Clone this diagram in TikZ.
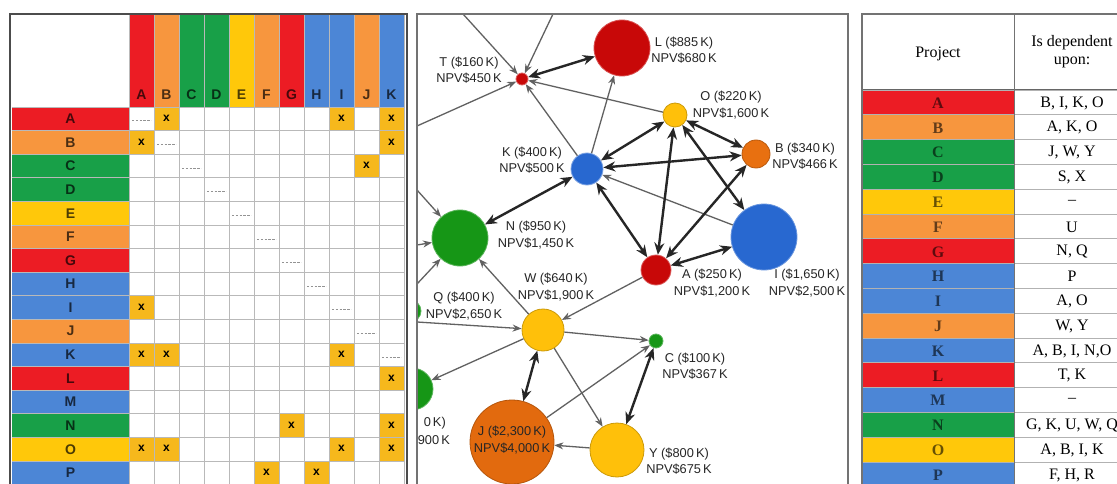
\documentclass[tikz,border=0pt]{standalone}
\usepackage{fontspec}
\setmainfont{Liberation Serif}
\setsansfont{Liberation Sans}
\usetikzlibrary{arrows.meta}

% table / matrix palette
\definecolor{cr}{RGB}{236,28,36}
\definecolor{co}{RGB}{247,150,62}
\definecolor{cg}{RGB}{24,160,72}
\definecolor{cy}{RGB}{255,200,10}
\definecolor{cb}{RGB}{76,134,214}
\definecolor{cx}{RGB}{246,184,28}
% network palette
\definecolor{gred}{RGB}{200,8,8}
\definecolor{gyel}{RGB}{255,192,10}
\definecolor{gblue}{RGB}{40,104,208}
\definecolor{gora}{RGB}{232,112,16}
\definecolor{gjor}{RGB}{226,106,14}
\definecolor{ggrn}{RGB}{22,150,22}

\tikzset{
  grid/.style={draw=gray!55, line width=0.8pt},
  hdr/.style={font=\sffamily\bfseries\fontsize{14}{16}\selectfont, inner sep=0pt},
  xmark/.style={font=\sffamily\bfseries\fontsize{12}{14}\selectfont, inner sep=0pt},
  diagmark/.style={draw=gray!85, line width=1pt, dash pattern=on 2.4pt off 1.4pt},
  gnode/.style={circle, inner sep=0pt, line width=0.8pt},
  lbl/.style={font=\sffamily\fontsize{12.8}{16.5}\selectfont, align=center, inner sep=0pt, text=black!85},
  dbl/.style={line width=2.4pt, draw=black!85,
    {Stealth[length=12pt,width=10pt]}-{Stealth[length=12pt,width=10pt]}},
  one/.style={line width=1.3pt, draw=black!62, -{Stealth[length=9pt,width=7pt]}},
  tcell/.style={font=\fontsize{16}{18}\selectfont, inner sep=0pt},
  tproj/.style={font=\bfseries\fontsize{16}{18}\selectfont, inner sep=0pt},
}

\begin{document}
\begin{tikzpicture}[x=1pt,y=-1pt]
\useasboundingbox (0,0) rectangle (1117,484);
\clip (0,0) rectangle (1117,484);
\fill[white] (0,0) rectangle (1117,484);

% ---------------- dependency matrix ----------------
\foreach \pl/\pc [count=\j from 0] in {A/cr,B/co,C/cg,D/cg,E/cy,F/co,G/cr,H/cb,I/cb,J/co,K/cb}{
  \fill[\pc] (129+\j*25,15) rectangle ++(25,92);
  \node[hdr, text=\pc!30!black] (h\pl) at (141.5+\j*25,95) {\pl};
}
\foreach \pl/\pc [count=\i from 0] in {A/cr,B/co,C/cg,D/cg,E/cy,F/co,G/cr,H/cb,I/cb,J/co,K/cb,L/cr,M/cb,N/cg,O/cy,P/cb}{
  \fill[\pc] (12,107+\i*23.6) rectangle ++(117,23.6);
  \node[hdr, text=\pc!30!black] (r\pl) at (70.5,118.8+\i*23.6) {\pl};
}
\foreach \rr/\kk in {0/1,0/8,0/10,1/0,1/10,2/9,8/0,10/0,10/1,10/8,11/10,13/6,13/10,14/0,14/1,14/8,14/10,15/5,15/7}{
  \fill[cx] (129.5+\kk*25,107.5+\rr*23.6) rectangle ++(24,22.6);
  \node[xmark] (x\rr-\kk) at (141.5+\kk*25,118.3+\rr*23.6) {x};
}
\foreach \i in {0,...,10}{
  \draw[diagmark] (132+\i*25,107+\i*23.6+14) -- ++(19,0);
}
\foreach \j in {0,...,11}{
  \draw[grid] (129+\j*25,15) -- (129+\j*25,490);
}
\foreach \i in {0,...,16}{
  \draw[grid] (12,107+\i*23.6) -- (405,107+\i*23.6);
}
\draw[draw=black!70, line width=2pt] (10,14) rectangle (407,492);

% ---------------- project network ----------------
\begin{scope}
\clip (417,14) rectangle (848,484);

\node[gnode, fill=gred,  draw=gred!65!white,  minimum size=12pt] (T) at (522,79) {};
\node[gnode, fill=gred,  draw=gred!70!white,  minimum size=56pt] (L) at (622,48) {};
\node[gnode, fill=gyel,  draw=gyel!80!black,  minimum size=24pt] (O) at (675,115) {};
\node[gnode, fill=gblue, draw=gblue!60!white, minimum size=32pt] (K) at (587,169) {};
\node[gnode, fill=gora,  draw=gora!80!black,  minimum size=28pt] (B) at (756,154) {};
\node[gnode, fill=gblue, draw=gblue!70!white, minimum size=66pt] (I) at (764,237) {};
\node[gnode, fill=gred,  draw=gred!65!white,  minimum size=30pt] (A) at (656,270) {};
\node[gnode, fill=ggrn,  draw=ggrn!70!white,  minimum size=56pt] (N) at (460,238) {};
\node[gnode, fill=gyel,  draw=gyel!80!black,  minimum size=42pt] (W) at (543,330) {};
\node[gnode, fill=ggrn,  draw=ggrn!70!white,  minimum size=22pt] (Q) at (410,311) {};
\node[gnode, fill=ggrn,  draw=ggrn!70!white,  minimum size=14pt] (C) at (656,341) {};
\node[gnode, fill=ggrn,  draw=ggrn!70!white,  minimum size=42pt] (U) at (412,389) {};
\node[gnode, fill=gjor,  draw=gjor!80!black,  minimum size=84pt] (J) at (512,442) {};
\node[gnode, fill=gyel,  draw=gyel!80!black,  minimum size=54pt] (Y) at (617,450) {};

% free ends of links running in from outside the panel
\coordinate (t1) at (463,14);
\coordinate (t2) at (553,14);
\coordinate (s1) at (417,126);
\coordinate (s2) at (417,190);
\coordinate (s3) at (417,245);
\coordinate (s4) at (417,284);
\coordinate (s5) at (417,322);

% thin one-way links
\draw[one] (t1) -- (T);
\draw[one] (t2) -- (T);
\draw[one] (s1) -- (T);
\draw[one] (O) -- (T);
\draw[one] (K) -- (T);
\draw[one] (K) -- (L);
\draw[one] (I) -- (K);
\draw[one] (A) -- (W);
\draw[one] (s2) -- (N);
\draw[one] (s3) -- (N);
\draw[one] (s4) -- (N);
\draw[one] (s5) -- (W);
\draw[one] (W) -- (N);
\draw[one] (W) -- (C);
\draw[one] (W) -- (U);
\draw[one] (W) -- (Y);
\draw[one] (J) -- (C);
\draw[one] (Y) -- (J);

% thick two-way links
\draw[dbl] (T) -- (L);
\draw[dbl] (K) -- (O);
\draw[dbl] (K) -- (B);
\draw[dbl] (K) -- (N);
\draw[dbl] (K) -- (A);
\draw[dbl] (O) -- (B);
\draw[dbl] (O) -- (I);
\draw[dbl] (O) -- (A);
\draw[dbl] (B) -- (A);
\draw[dbl] (I) -- (A);
\draw[dbl] (W) -- (J);
\draw[dbl] (C) -- (Y);

% labels
\node[lbl] (lT) at (469,70)  {T (\$160\,K)\\NPV\$450\,K};
\node[lbl] (lL) at (684,50)  {L (\$885\,K)\\NPV\$680\,K};
\node[lbl] (lO) at (731,105) {O (\$220\,K)\\NPV\$1,600\,K};
\node[lbl] (lK) at (532,160) {K (\$400\,K)\\NPV\$500\,K};
\node[lbl] (lB) at (805,156) {B (\$340\,K)\\NPV\$466\,K};
\node[lbl] (lN) at (536,235) {N (\$950\,K)\\NPV\$1,450\,K};
\node[lbl] (lW) at (556,287) {W (\$640\,K)\\NPV\$1,900\,K};
\node[lbl] (lQ) at (464,306) {Q (\$400\,K)\\NPV\$2,650\,K};
\node[lbl] (lA) at (712,283) {A (\$250\,K)\\NPV\$1,200\,K};
\node[lbl] (lI) at (807,283) {I (\$1,650\,K)\\NPV\$2,500\,K};
\node[lbl] (lC) at (695,366) {C (\$100\,K)\\NPV\$367\,K};
\node[lbl] (lY) at (679,461) {Y (\$800\,K)\\NPV\$675\,K};
\node[lbl] (lJ) at (512,440) {J (\$2,300\,K)\\NPV\$4,000\,K};
\node[lbl, anchor=east] (lU1) at (446,423) {0\,K)};
\node[lbl, anchor=east] (lU2) at (450,440) {900\,K};
\end{scope}
\draw[draw=black!55, line width=1.5pt] (417,14) rectangle (848,492);

% ---------------- dependency table ----------------
\fill[white] (862,14) rectangle (1130,90);
\node[tcell] (hP) at (938,54) {Project};
\node[tcell, align=center] (hD) at (1072,52) {Is dependent\\upon:};
\foreach \pl/\pc/\pd [count=\i from 0] in {A/cr/{B, I, K, O},B/co/{A, K, O},C/cg/{J, W, Y},D/cg/{S, X},E/cy/{--},F/co/{U},G/cr/{N, Q},H/cb/{P},I/cb/{A, O},J/co/{W, Y},K/cb/{A, B, I, N,O},L/cr/{T, K},M/cb/{--},N/cg/{G, K, U, W, Q},O/cy/{A, B, I, K},P/cb/{F, H, R}}{
  \fill[\pc] (862,90+\i*24.8) rectangle ++(152,24.8);
  \node[tproj, text=\pc!40!black] (p\pl) at (938,103+\i*24.8) {\pl};
  \node[tcell] (d\pl) at (1072,103+\i*24.8) {\pd};
  \draw[gray!60, line width=0.8pt] (862,90+\i*24.8) -- (1130,90+\i*24.8);
}
\draw[black!60, line width=1pt] (862,90) -- (1130,90);
\draw[black!55, line width=1pt] (1014,14) -- (1014,492);
\draw[black!55, line width=1.2pt] (862,14) rectangle (1130,492);
\end{tikzpicture}
\end{document}
